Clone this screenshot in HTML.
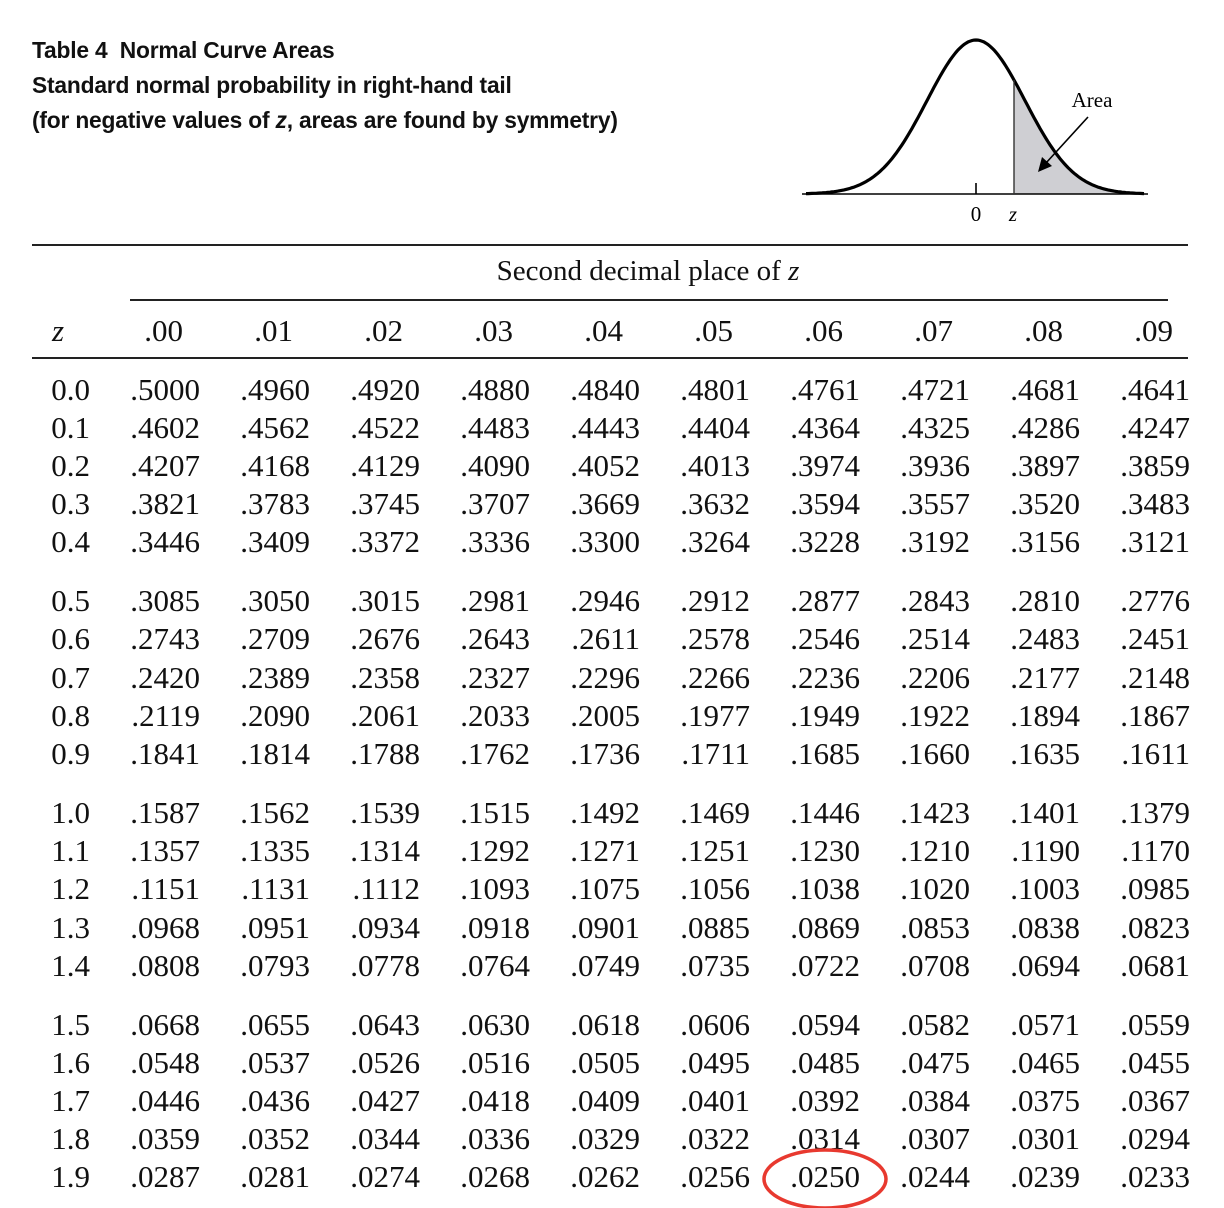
<!DOCTYPE html>
<html><head><meta charset="utf-8"><style>
body{margin:0;background:#fff;}
#p{position:relative;width:1224px;height:1208px;overflow:hidden;background:#fff;color:#111;}
.t{position:absolute;left:32px;font-family:"Liberation Sans",sans-serif;font-weight:bold;font-size:22.8px;white-space:nowrap;letter-spacing:-0.2px;}
.r{position:absolute;left:0;height:36px;font-family:"Liberation Serif",serif;font-size:31px;line-height:36px;white-space:nowrap;}
.r span{display:inline-block;width:110px;text-align:right;}
.r span:first-child{width:90px;}
.h span{padding-right:17px;width:93px;}
.h span:first-child{width:38px;padding-left:52px;padding-right:0;font-style:italic;text-align:left;}
.rule{position:absolute;height:2px;background:#222;}
</style></head><body><div id="p">
<div class="t" style="top:37px">Table 4&nbsp; Normal Curve Areas</div>
<div class="t" style="top:72px">Standard normal probability in right-hand tail</div>
<div class="t" style="top:107px">(for negative values of <i>z</i>, areas are found by symmetry)</div>
<svg style="position:absolute;left:0;top:0" width="1224" height="240">
<path id="sh" fill="#cfcfd3" stroke="none" d=""/>
<path id="cv" fill="none" stroke="#000" stroke-width="3.2" d=""/>
<line x1="802" y1="194" x2="1148" y2="194" stroke="#000" stroke-width="1.6"/>
<line x1="976" y1="183" x2="976" y2="194" stroke="#000" stroke-width="1.6"/>
<line x1="1014" y1="80" x2="1014" y2="194" stroke="#333" stroke-width="1.4"/>
<line x1="1088" y1="117" x2="1046" y2="163" stroke="#000" stroke-width="1.6"/>
<polygon points="1038,172 1042,157 1052,166" fill="#000"/>
<text x="976" y="221" font-family="Liberation Serif,serif" font-size="21" text-anchor="middle">0</text>
<text x="1013" y="221" font-family="Liberation Serif,serif" font-size="21" font-style="italic" text-anchor="middle">z</text>
<text x="1092" y="107" font-family="Liberation Serif,serif" font-size="21" text-anchor="middle">Area</text>
</svg>
<script>
(function(){var s=49,c=976,b=194,h=154,d="",e="";for(var x=806;x<=1144;x+=2){var y=b-h*Math.exp(-Math.pow((x-c)/s,2)/2);d+=(x==806?"M":"L")+x+","+y.toFixed(1);if(x>=1014){e+=(e?"L":"M1014,194L")+x+","+y.toFixed(1);}}e+="L1144,194Z";document.getElementById("cv").setAttribute("d",d);document.getElementById("sh").setAttribute("d",e);})();
</script>
<div class="rule" style="left:32px;width:1156px;top:244px"></div>
<div style="position:absolute;left:0;width:1296px;top:255px;text-align:center;font-family:'Liberation Serif',serif;font-size:29px">Second decimal place of <i>z</i></div>
<div class="rule" style="left:130px;width:1038px;top:299px"></div>
<div class="r h" style="top:313px"><span>z</span><span>.00</span><span>.01</span><span>.02</span><span>.03</span><span>.04</span><span>.05</span><span>.06</span><span>.07</span><span>.08</span><span>.09</span></div>
<div class="rule" style="left:32px;width:1156px;top:357px"></div>
<div class="r" style="top:372px"><span>0.0</span><span>.5000</span><span>.4960</span><span>.4920</span><span>.4880</span><span>.4840</span><span>.4801</span><span>.4761</span><span>.4721</span><span>.4681</span><span>.4641</span></div>
<div class="r" style="top:410px"><span>0.1</span><span>.4602</span><span>.4562</span><span>.4522</span><span>.4483</span><span>.4443</span><span>.4404</span><span>.4364</span><span>.4325</span><span>.4286</span><span>.4247</span></div>
<div class="r" style="top:448px"><span>0.2</span><span>.4207</span><span>.4168</span><span>.4129</span><span>.4090</span><span>.4052</span><span>.4013</span><span>.3974</span><span>.3936</span><span>.3897</span><span>.3859</span></div>
<div class="r" style="top:486px"><span>0.3</span><span>.3821</span><span>.3783</span><span>.3745</span><span>.3707</span><span>.3669</span><span>.3632</span><span>.3594</span><span>.3557</span><span>.3520</span><span>.3483</span></div>
<div class="r" style="top:524px"><span>0.4</span><span>.3446</span><span>.3409</span><span>.3372</span><span>.3336</span><span>.3300</span><span>.3264</span><span>.3228</span><span>.3192</span><span>.3156</span><span>.3121</span></div>
<div class="r" style="top:583px"><span>0.5</span><span>.3085</span><span>.3050</span><span>.3015</span><span>.2981</span><span>.2946</span><span>.2912</span><span>.2877</span><span>.2843</span><span>.2810</span><span>.2776</span></div>
<div class="r" style="top:621px"><span>0.6</span><span>.2743</span><span>.2709</span><span>.2676</span><span>.2643</span><span>.2611</span><span>.2578</span><span>.2546</span><span>.2514</span><span>.2483</span><span>.2451</span></div>
<div class="r" style="top:660px"><span>0.7</span><span>.2420</span><span>.2389</span><span>.2358</span><span>.2327</span><span>.2296</span><span>.2266</span><span>.2236</span><span>.2206</span><span>.2177</span><span>.2148</span></div>
<div class="r" style="top:698px"><span>0.8</span><span>.2119</span><span>.2090</span><span>.2061</span><span>.2033</span><span>.2005</span><span>.1977</span><span>.1949</span><span>.1922</span><span>.1894</span><span>.1867</span></div>
<div class="r" style="top:736px"><span>0.9</span><span>.1841</span><span>.1814</span><span>.1788</span><span>.1762</span><span>.1736</span><span>.1711</span><span>.1685</span><span>.1660</span><span>.1635</span><span>.1611</span></div>
<div class="r" style="top:795px"><span>1.0</span><span>.1587</span><span>.1562</span><span>.1539</span><span>.1515</span><span>.1492</span><span>.1469</span><span>.1446</span><span>.1423</span><span>.1401</span><span>.1379</span></div>
<div class="r" style="top:833px"><span>1.1</span><span>.1357</span><span>.1335</span><span>.1314</span><span>.1292</span><span>.1271</span><span>.1251</span><span>.1230</span><span>.1210</span><span>.1190</span><span>.1170</span></div>
<div class="r" style="top:871px"><span>1.2</span><span>.1151</span><span>.1131</span><span>.1112</span><span>.1093</span><span>.1075</span><span>.1056</span><span>.1038</span><span>.1020</span><span>.1003</span><span>.0985</span></div>
<div class="r" style="top:910px"><span>1.3</span><span>.0968</span><span>.0951</span><span>.0934</span><span>.0918</span><span>.0901</span><span>.0885</span><span>.0869</span><span>.0853</span><span>.0838</span><span>.0823</span></div>
<div class="r" style="top:948px"><span>1.4</span><span>.0808</span><span>.0793</span><span>.0778</span><span>.0764</span><span>.0749</span><span>.0735</span><span>.0722</span><span>.0708</span><span>.0694</span><span>.0681</span></div>
<div class="r" style="top:1007px"><span>1.5</span><span>.0668</span><span>.0655</span><span>.0643</span><span>.0630</span><span>.0618</span><span>.0606</span><span>.0594</span><span>.0582</span><span>.0571</span><span>.0559</span></div>
<div class="r" style="top:1045px"><span>1.6</span><span>.0548</span><span>.0537</span><span>.0526</span><span>.0516</span><span>.0505</span><span>.0495</span><span>.0485</span><span>.0475</span><span>.0465</span><span>.0455</span></div>
<div class="r" style="top:1083px"><span>1.7</span><span>.0446</span><span>.0436</span><span>.0427</span><span>.0418</span><span>.0409</span><span>.0401</span><span>.0392</span><span>.0384</span><span>.0375</span><span>.0367</span></div>
<div class="r" style="top:1121px"><span>1.8</span><span>.0359</span><span>.0352</span><span>.0344</span><span>.0336</span><span>.0329</span><span>.0322</span><span>.0314</span><span>.0307</span><span>.0301</span><span>.0294</span></div>
<div class="r" style="top:1159px"><span>1.9</span><span>.0287</span><span>.0281</span><span>.0274</span><span>.0268</span><span>.0262</span><span>.0256</span><span>.0250</span><span>.0244</span><span>.0239</span><span>.0233</span></div>
<svg style="position:absolute;left:0;top:1100px" width="1224" height="108"><ellipse cx="825" cy="79" rx="61" ry="29" fill="none" stroke="#e8392f" stroke-width="3.5"/></svg>
</div></body></html>
